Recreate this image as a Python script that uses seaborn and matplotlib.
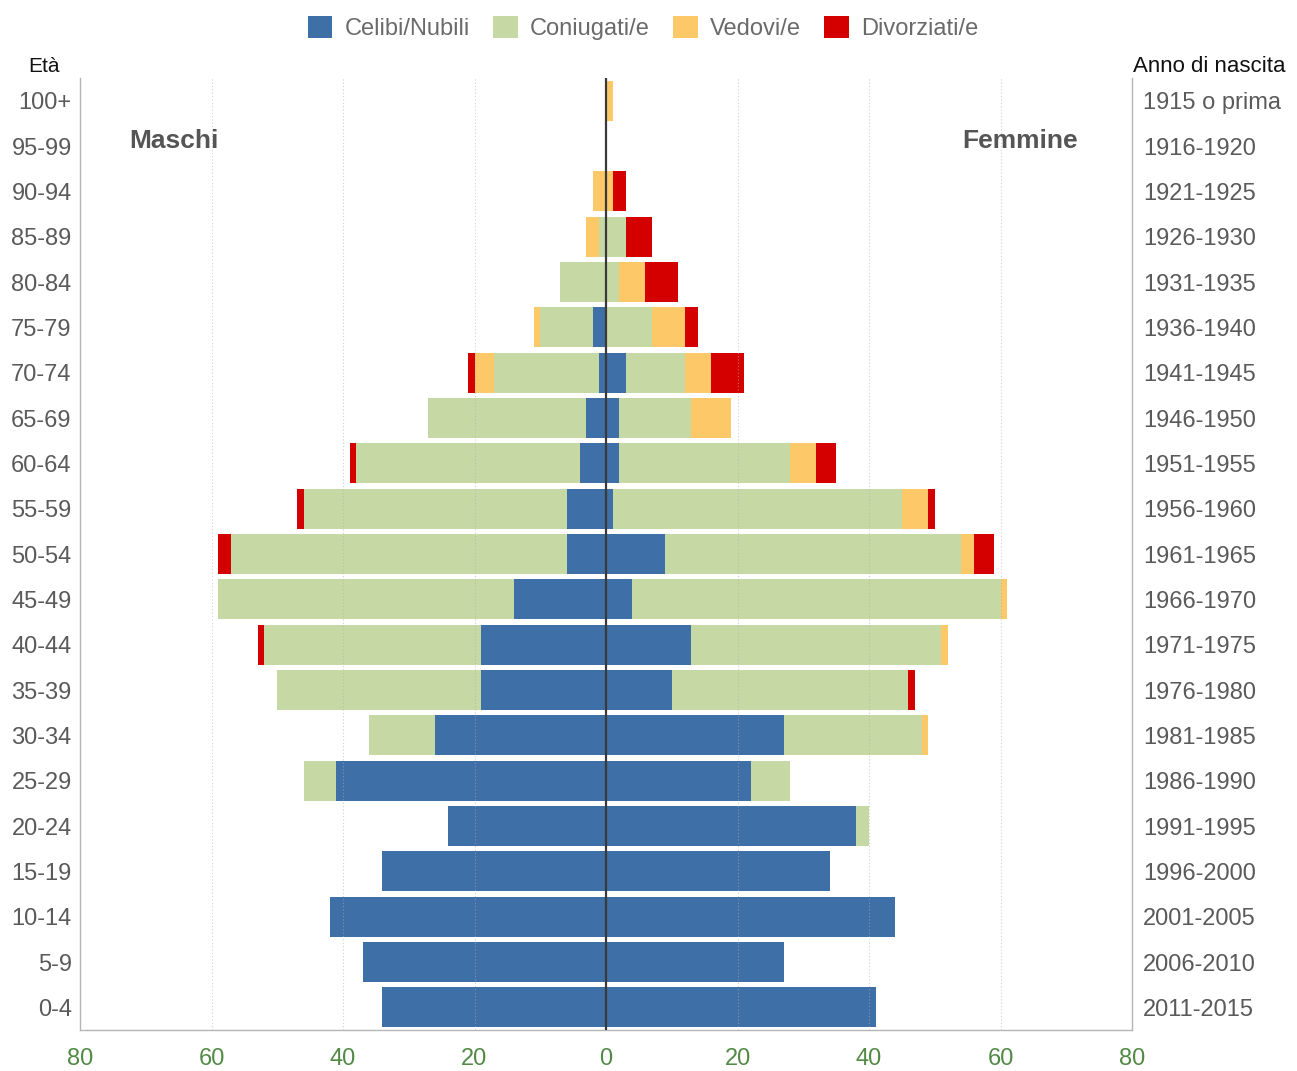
import numpy as np
import pandas as pd
import matplotlib
matplotlib.use("Agg")
import matplotlib.pyplot as plt
import seaborn as sns
from matplotlib.patches import Patch

# ---------------- data (top row = oldest) ----------------
ages = ["100+", "95-99", "90-94", "85-89", "80-84", "75-79", "70-74", "65-69",
        "60-64", "55-59", "50-54", "45-49", "40-44", "35-39", "30-34", "25-29",
        "20-24", "15-19", "10-14", "5-9", "0-4"]
birth_years = ["1915 o prima", "1916-1920", "1921-1925", "1926-1930", "1931-1935",
               "1936-1940", "1941-1945", "1946-1950", "1951-1955", "1956-1960",
               "1961-1965", "1966-1970", "1971-1975", "1976-1980", "1981-1985",
               "1986-1990", "1991-1995", "1996-2000", "2001-2005", "2006-2010",
               "2011-2015"]

male_celibi     = [0, 0, 0, 0, 0, 2, 1, 3, 4, 6, 6, 14, 19, 19, 26, 41, 24, 34, 42, 37, 34]
male_coniugati  = [0, 0, 0, 1, 7, 8, 16, 24, 34, 40, 51, 45, 33, 31, 10, 5, 0, 0, 0, 0, 0]
male_vedovi     = [0, 0, 2, 2, 0, 1, 3, 0, 0, 0, 0, 0, 0, 0, 0, 0, 0, 0, 0, 0, 0]
male_divorziati = [0, 0, 0, 0, 0, 0, 1, 0, 1, 1, 2, 0, 1, 0, 0, 0, 0, 0, 0, 0, 0]

female_nubili     = [0, 0, 0, 0, 0, 0, 3, 2, 2, 1, 9, 4, 13, 10, 27, 22, 38, 34, 44, 27, 41]
female_coniugate  = [0, 0, 0, 3, 2, 7, 9, 11, 26, 44, 45, 56, 38, 36, 21, 6, 2, 0, 0, 0, 0]
female_vedove     = [1, 0, 1, 0, 4, 5, 4, 6, 4, 4, 2, 1, 1, 0, 1, 0, 0, 0, 0, 0, 0]
female_divorziate = [0, 0, 2, 4, 5, 2, 5, 0, 3, 1, 3, 0, 0, 1, 0, 0, 0, 0, 0, 0, 0]

legend_labels = ["Celibi/Nubili", "Coniugati/e", "Vedovi/e", "Divorziati/e"]
x_ticks = [-80, -60, -40, -20, 0, 20, 40, 60, 80]
x_tick_labels = ["80", "60", "40", "20", "0", "20", "40", "60", "80"]

colors = ["#3e6fa6", "#c6d9a4", "#fdc868", "#d40000"]

# ---------------- style ----------------
sns.set_theme(style="white")
plt.rcParams["font.family"] = ["Liberation Sans", "DejaVu Sans"]

W, H = 1297, 1071
fig = plt.figure(figsize=(W / 100, H / 100), dpi=100)
ax = fig.add_axes([80 / W, 1 - 1030 / H, (1132 - 80) / W, (1030 - 78) / H])

sides = [
    (-1, [male_celibi, male_coniugati, male_vedovi, male_divorziati]),
    (1, [female_nubili, female_coniugate, female_vedove, female_divorziate]),
]
for sign, comps in sides:
    cums = np.cumsum(np.array(comps, dtype=float), axis=0)
    # draw outermost layer first, inner layers on top -> stacked look
    for k in range(3, -1, -1):
        df = pd.DataFrame({"age": ages, "value": sign * cums[k]})
        sns.barplot(data=df, x="value", y="age", order=ages, orient="h",
                    color=colors[k], saturation=1, width=0.88, linewidth=0,
                    errorbar=None, ax=ax)

ax.set_xlim(-80, 80)
ax.set_ylim(20.5, -0.5)

# grid (faint dotted, over bars)
for v in [-60, -40, -20, 20, 40, 60]:
    ax.axvline(v, color="#b0b0b0", lw=0.8, ls=(0, (1, 2)), alpha=0.6, zorder=3)
ax.axvline(0, color="#3a3a3a", lw=1.6, zorder=4)

# axes decoration
ax.set_xlabel("")
ax.set_ylabel("")
ax.set_xticks(x_ticks)
ax.set_xticklabels(x_tick_labels, fontsize=17, color="#528a45")
ax.set_yticks(range(len(ages)))
ax.set_yticklabels(ages, fontsize=17, color="#5a5a5a")
ax.tick_params(axis="x", length=0, pad=13)
ax.tick_params(axis="y", length=0, pad=6)
for s in ["left", "right", "bottom"]:
    ax.spines[s].set_visible(True)
    ax.spines[s].set_color("#b5b5b5")
    ax.spines[s].set_linewidth(1.0)
ax.spines["top"].set_visible(False)

ax2 = ax.twinx()
ax2.set_ylim(ax.get_ylim())
ax2.set_yticks(range(len(birth_years)))
ax2.set_yticklabels(birth_years, fontsize=17, color="#5a5a5a")
ax2.tick_params(axis="y", length=0, pad=8)
for s in ax2.spines.values():
    s.set_visible(False)
ax2.grid(False)

# in-plot labels
ax.text(-65.7, 0.88, "Maschi", fontsize=19, fontweight="bold", color="#555555",
        ha="center", va="center")
ax.text(62.9, 0.88, "Femmine", fontsize=19, fontweight="bold", color="#555555",
        ha="center", va="center")

# headers
fig.text(44 / W, 1 - 67 / H, "Età", fontsize=15, color="#111111", ha="center", va="center")
fig.text(1133 / W, 1 - 67 / H, "Anno di nascita", fontsize=16, color="#111111",
         ha="left", va="center")

# legend
handles = [Patch(facecolor=c, edgecolor="none") for c in colors]
fig.legend(handles, legend_labels, loc="center", bbox_to_anchor=(643 / W, 1 - 28 / H),
           ncol=4, frameon=False, fontsize=17, handlelength=1.05, handleheight=1.05,
           handletextpad=0.5, columnspacing=1.0, labelcolor="#6a6a6a")

fig.savefig("out.png", dpi=100, facecolor="white")
